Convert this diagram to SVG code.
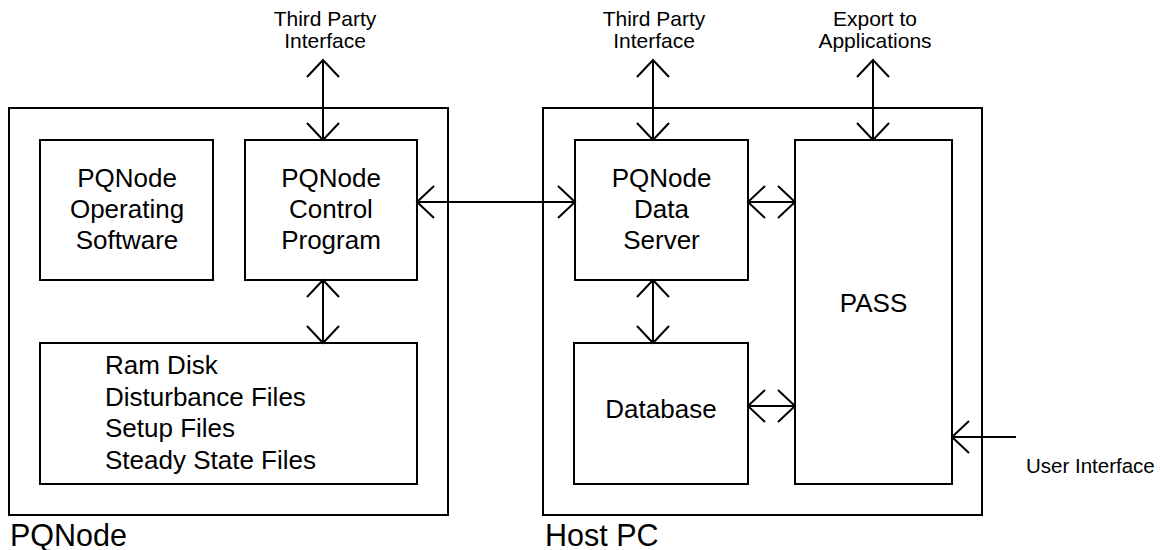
<svg xmlns="http://www.w3.org/2000/svg" width="1160" height="550" viewBox="0 0 1160 550">
<style>
.box{fill:none;stroke:#000;stroke-width:2}
.ln{fill:none;stroke:#000;stroke-width:2}
.t{font-family:"Liberation Sans",Arial,sans-serif;fill:#000}
.n{font-size:26px;text-anchor:middle}
.s{font-size:21px;text-anchor:middle}
.big{font-size:30.5px}
</style>
<defs>
<marker id="ah" markerUnits="userSpaceOnUse" viewBox="-20 -20 40 40" markerWidth="40" markerHeight="40" refX="0" refY="0" orient="auto-start-reverse" overflow="visible">
<path d="M-17,-16 L0,0 L-17,16" fill="none" stroke="#000" stroke-width="2" stroke-linejoin="miter"/>
</marker>
</defs>
<rect width="1160" height="550" fill="#fff"/>
<g id="pqnode">
<rect class="box" x="9" y="108" width="439" height="407"/>
<text class="t big" x="10" y="546">PQNode</text>
</g>
<g id="hostpc">
<rect class="box" x="543" y="108" width="439" height="407"/>
<text class="t big" x="545" y="546">Host PC</text>
</g>
<g id="opsw">
<rect class="box" x="40" y="140" width="173" height="140"/>
<text class="t n" x="127" y="187">PQNode</text>
<text class="t n" x="127" y="218">Operating</text>
<text class="t n" x="127" y="249">Software</text>
</g>
<g id="ctrl">
<rect class="box" x="245" y="140" width="172" height="140"/>
<text class="t n" x="331" y="187">PQNode</text>
<text class="t n" x="331" y="218">Control</text>
<text class="t n" x="331" y="249">Program</text>
</g>
<g id="ramdisk">
<rect class="box" x="40" y="343" width="377" height="141"/>
<text class="t" font-size="26" x="105" y="374">Ram Disk</text>
<text class="t" font-size="26" x="105" y="406">Disturbance Files</text>
<text class="t" font-size="26" x="105" y="437">Setup Files</text>
<text class="t" font-size="26" x="105" y="469">Steady State Files</text>
</g>
<g id="dataserver">
<rect class="box" x="575" y="140" width="173" height="140"/>
<text class="t n" x="661.5" y="187">PQNode</text>
<text class="t n" x="661.5" y="218">Data</text>
<text class="t n" x="661.5" y="249">Server</text>
</g>
<g id="database">
<rect class="box" x="574" y="343" width="174" height="141"/>
<text class="t n" x="661" y="418">Database</text>
</g>
<g id="pass">
<rect class="box" x="795" y="140" width="157" height="344"/>
<text class="t n" x="873.5" y="312">PASS</text>
</g>
<g id="labels">
<text class="t s" x="325" y="26">Third Party</text>
<text class="t s" x="325" y="48">Interface</text>
<text class="t s" x="654" y="26">Third Party</text>
<text class="t s" x="654" y="48">Interface</text>
<text class="t s" x="875" y="26">Export to</text>
<text class="t s" x="875" y="48">Applications</text>
<text class="t" font-size="20.5" x="1026" y="473">User Interface</text>
</g>
<g id="connectors">
<line class="ln" x1="323" y1="60" x2="323" y2="140" marker-start="url(#ah)" marker-end="url(#ah)"/>
<line class="ln" x1="653" y1="60" x2="653" y2="140" marker-start="url(#ah)" marker-end="url(#ah)"/>
<line class="ln" x1="873" y1="60" x2="873" y2="140" marker-start="url(#ah)" marker-end="url(#ah)"/>
<line class="ln" x1="323" y1="280" x2="323" y2="343" marker-start="url(#ah)" marker-end="url(#ah)"/>
<line class="ln" x1="653" y1="280" x2="653" y2="343" marker-start="url(#ah)" marker-end="url(#ah)"/>
<line class="ln" x1="417" y1="202" x2="575" y2="202" marker-start="url(#ah)" marker-end="url(#ah)"/>
<line class="ln" x1="748" y1="202" x2="795" y2="202" marker-start="url(#ah)" marker-end="url(#ah)"/>
<line class="ln" x1="748" y1="406" x2="795" y2="406" marker-start="url(#ah)" marker-end="url(#ah)"/>
<line class="ln" x1="1016" y1="437" x2="952" y2="437" marker-end="url(#ah)"/>
</g>
</svg>
